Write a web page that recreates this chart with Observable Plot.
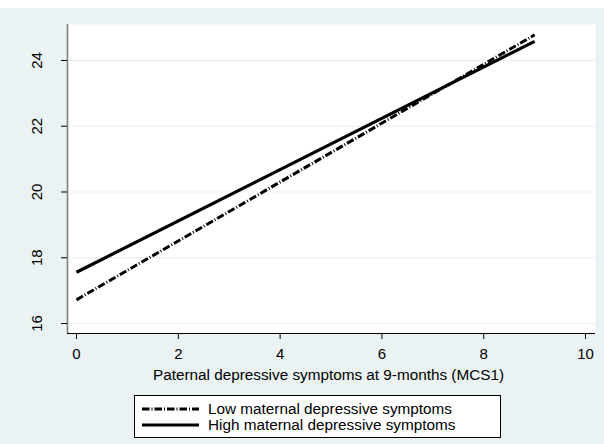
<!DOCTYPE html>
<html>
<head>
<meta charset="utf-8">
<script src="https://cdn.jsdelivr.net/npm/d3@7"></script>
<script src="https://cdn.jsdelivr.net/npm/@observablehq/plot@0.6"></script>
<style>
  html, body { margin: 0; padding: 0; background: #fff; }
  body { width: 604px; height: 444px; overflow: hidden; font-family: "Liberation Sans", Arial, sans-serif; }
  #band { height: 8px; background: #fff; }
  #wrap { position: relative; width: 604px; height: 436px; background: #EAF2F3; }
  #chart svg { display: block; overflow: visible; }
  #legend { position: absolute; left: 134px; top: 387px; width: 367px; height: 43px;
    border: 1px solid #000; background: #fff; box-sizing: border-box; font-size: 15.3px; color: #000; }
  .row { position: absolute; left: 7px; height: 16px; display: flex; align-items: center; white-space: nowrap; }
  .row svg { margin-right: 9px; display: block; }
</style>
</head>
<body>
<div id="band"></div>
<div id="wrap">
  <div id="chart"></div>
  <div id="legend"></div>
</div>
<script>
const xValues = [0, 9];
const lowMaternal = [16.72, 24.78];
const highMaternal = [17.56, 24.58];
const seriesNames = ["Low maternal depressive symptoms", "High maternal depressive symptoms"];
const xTicks = [0, 2, 4, 6, 8, 10];
const yTicks = [16, 18, 20, 22, 24];
const xLabel = "Paternal depressive symptoms at 9-months (MCS1)";

const rows = [];
xValues.forEach((x, i) => {
  rows.push({series: seriesNames[0], x, y: lowMaternal[i]});
  rows.push({series: seriesNames[1], x, y: highMaternal[i]});
});

const W = 604, ML = 67, MR = 9;
const xDomain = [-0.177, 10.196];
const yDomain = [15.696, 25.094];
const pxPerX = (W - ML - MR) / (xDomain[1] - xDomain[0]);
const yLabelX = xDomain[0] - 30 / pxPerX; // 30px left of the y axis
const font = "'Liberation Sans', Arial, sans-serif";

const chart = Plot.plot({
  width: W,
  height: 380,
  marginLeft: ML,
  marginRight: MR,
  marginTop: 16,
  marginBottom: 55,
  style: {background: "transparent", fontFamily: font, fontSize: "15px", color: "#000", overflow: "visible"},
  x: {domain: xDomain},
  y: {domain: yDomain},
  marks: [
    Plot.frame({fill: "white", stroke: "none"}),
    Plot.gridY(yTicks, {stroke: "#E6EFF1", strokeOpacity: 1, strokeWidth: 1.2}),
    Plot.ruleX([xDomain[0]], {stroke: "#7f7f7f", strokeWidth: 1.6}),
    Plot.ruleY([yDomain[0]], {stroke: "#000", strokeWidth: 1.2}),
    Plot.axisY(yTicks, {tickSize: 6, tickFormat: () => "", label: null, stroke: "#000"}),
    Plot.text(yTicks, {x: () => yLabelX, y: d => d, text: d => String(d), rotate: -90, textAnchor: "middle", lineAnchor: "middle", fontSize: 15, fill: "#000", clip: false}),
    Plot.axisX(xTicks, {tickSize: 6, tickPadding: 9, label: null, fontSize: 15, stroke: "#000"}),
    Plot.text([xLabel], {frameAnchor: "bottom", dx: -3, dy: 42, lineAnchor: "middle", fontSize: 15.3, fill: "#000"}),
    Plot.line(rows.filter(d => d.series === seriesNames[0]), {x: "x", y: "y", stroke: "#000", strokeWidth: 3, strokeDasharray: "7.5,2,1,2", strokeLinecap: "butt"}),
    Plot.line(rows.filter(d => d.series === seriesNames[1]), {x: "x", y: "y", stroke: "#000", strokeWidth: 3.2, strokeLinecap: "butt"})
  ]
});
document.getElementById("chart").appendChild(chart);

const legend = document.getElementById("legend");
seriesNames.forEach((name, i) => {
  const row = document.createElement("div");
  row.className = "row";
  row.style.top = (i === 0 ? 5 : 21) + "px";
  const dash = i === 0 ? 'stroke-dasharray="7.5,2,1,2"' : "";
  row.innerHTML = `<svg width="57" height="6"><line x1="0" y1="3" x2="57" y2="3" stroke="#000" stroke-width="3" ${dash}/></svg><span>${name}</span>`;
  legend.appendChild(row);
});
</script>
</body>
</html>
